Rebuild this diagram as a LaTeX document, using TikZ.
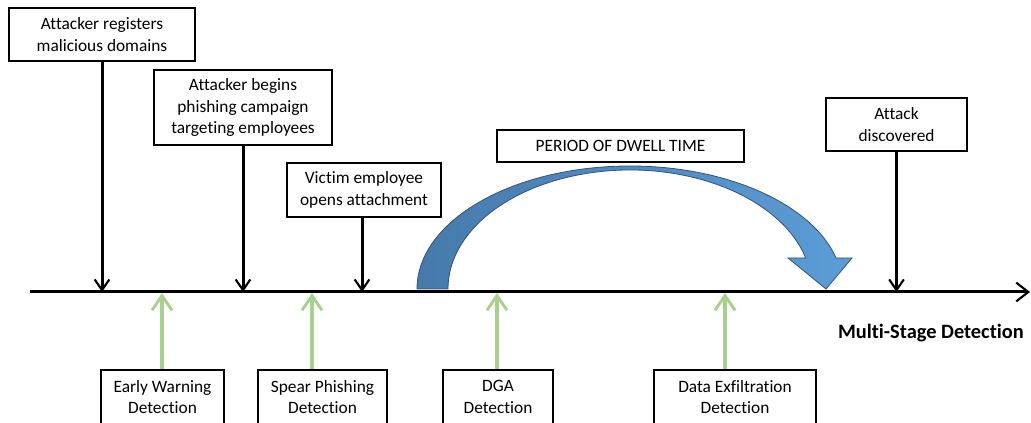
\documentclass[tikz,border=0pt]{standalone}
\usepackage{fontspec}
\setmainfont{Carlito}[Ligatures=NoCommon]
\usepackage{tikz}
\usetikzlibrary{arrows.meta}

\definecolor{dwelldark}{RGB}{70,122,172}
\definecolor{dwelllight}{RGB}{91,157,215}
\definecolor{dwellline}{RGB}{52,82,120}
\definecolor{detgreen}{RGB}{169,209,142}

\begin{document}
\begin{tikzpicture}[x=0.75pt,y=-0.75pt,
        font=\fontsize{13}{16}\selectfont,
        event node/.style={draw,line width=0.8pt,fill=white,align=center,inner sep=0pt},
        detect node/.style={event node,minimum height=54*0.75pt},
        attack edge/.style={line width=2.25pt,-{Straight Barb[length=8pt,width=11pt,line width=1.6pt]}},
        detect edge/.style={detgreen,line width=3pt,-{Straight Barb[length=11pt,width=15pt,line width=2.2pt]}}]

    \useasboundingbox (0,0) rectangle (1031,423);

    % Nodes
    \node[event node,minimum width=186*0.75pt,minimum height=53*0.75pt] (reg) at (102,34.5) {Attacker registers\\malicious domains};
    \node[event node,minimum width=178*0.75pt,minimum height=75*0.75pt] (camp) at (243,107.5) {Attacker begins\\phishing campaign\\targeting employees};
    \node[event node,minimum width=154*0.75pt,minimum height=54*0.75pt] (open) at (364,190) {Victim employee\\opens attachment};
    \node[event node,minimum width=247*0.75pt,minimum height=32*0.75pt] (dwell) at (620.5,146) {PERIOD OF DWELL TIME};
    \node[event node,minimum width=141*0.75pt,minimum height=53*0.75pt] (found) at (896.5,124.5) {Attack\\discovered};

    \node[detect node,minimum width=123*0.75pt] (early) at (162.5,397) {Early Warning\\Detection};
    \node[detect node,minimum width=129*0.75pt] (spear) at (322.5,397) {Spear Phishing\\Detection};
    \node[detect node,minimum width=110*0.75pt] (dga) at (498,397) {DGA\\Detection};
    \node[detect node,minimum width=162*0.75pt] (exfil) at (735,397) {Data Exfiltration\\Detection};

    \node[anchor=east,inner sep=0pt,font=\fontsize{15.3}{18}\selectfont\bfseries] (multi) at (1024,333) {Multi-Stage Detection};

    % Time line
    \coordinate (start) at (30,292);
    \coordinate (stop) at (1030,292);
    \coordinate (t1) at (162,293);
    \coordinate (t2) at (312,293);
    \coordinate (t3) at (497,293);
    \coordinate (t4) at (725,293);

    % Dwell arrow
    \path[draw=dwellline,line width=0.6pt,left color=dwelldark,right color=dwelllight]
    (417,289) arc[start angle=180,end angle=14.6,x radius=159.75pt,y radius=92.25pt]
    -- (852,258) -- (826,289) -- (788,258) -- (805.7,258)
    arc[start angle=15.1,end angle=180,x radius=136.5pt,y radius=89.25pt] -- cycle;

    % Edges
    \draw[line width=2.25pt,-{Straight Barb[length=9pt,width=14pt,line width=1.6pt]}] (start) -- (stop);
    \draw[attack edge] (reg.south) -- (reg.south |- start);
    \draw[attack edge] (camp.south) -- (camp.south |- start);
    \draw[attack edge] (open.south -| 362,0) -- (362,292);
    \draw[attack edge] (found.south) -- (found.south |- start);

    \draw[detect edge] (early.north -| t1) -- (t1);
    \draw[detect edge] (spear.north -| t2) -- (t2);
    \draw[detect edge] (dga.north -| t3) -- (t3);
    \draw[detect edge] (exfil.north -| t4) -- (t4);

\end{tikzpicture}
\end{document}
